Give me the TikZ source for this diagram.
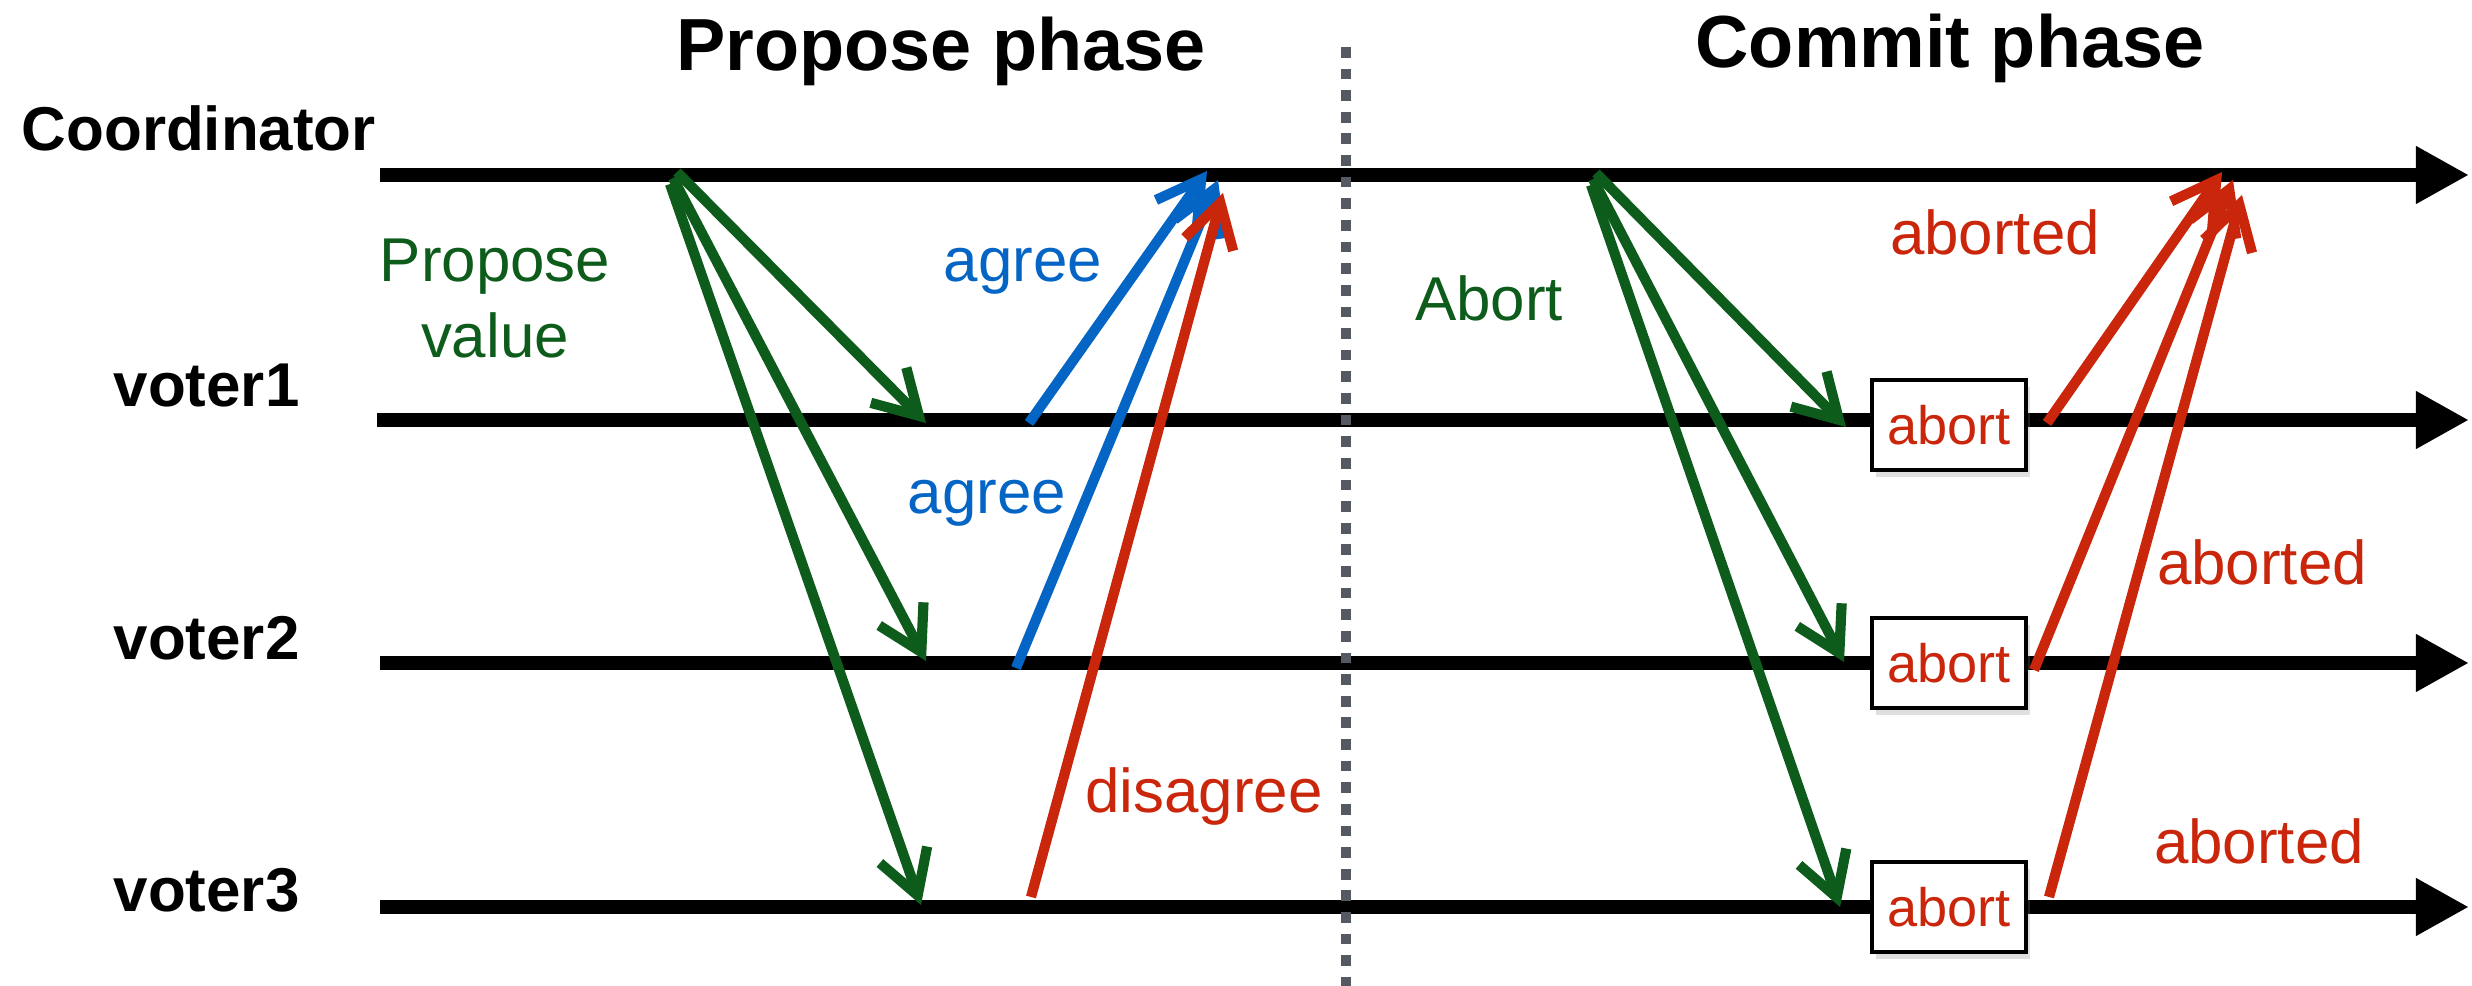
\documentclass[tikz,border=0pt]{standalone}
\usepackage{fontspec}
\setmainfont{Liberation Sans}
\usetikzlibrary{arrows.meta,shadows}
\definecolor{mgreen}{HTML}{0E5C1B}
\definecolor{mblue}{HTML}{0565C4}
\definecolor{mred}{HTML}{C9260B}
\definecolor{mgray}{HTML}{555A62}
\begin{document}
\begin{tikzpicture}[x=0.01cm,y=-0.01cm,
  timeline/.style={line width=3.9pt,-{Triangle[length=0.53cm,width=0.54cm]}},
  divider/.style={mgray,line width=3.1pt,dash pattern=on 3.05pt off 3.1pt},
  msg/.style={line width=2.9pt,-{Straight Barb[length=0.43cm,width=0.50cm]}},
  lbl/.style={inner sep=0pt,font=\fontsize{17.6pt}{21pt}\selectfont},
  blbl/.style={lbl,font=\fontsize{17.6pt}{21pt}\selectfont\bfseries},
  head/.style={inner sep=0pt,font=\fontsize{21pt}{25pt}\selectfont\bfseries},
  abox/.style={draw=black,fill=white,line width=1.2pt,minimum width=1.54cm,minimum height=0.90cm,
    inner sep=0pt,text=mred,font=\fontsize{15.4pt}{18pt}\selectfont,
    drop shadow={shadow xshift=0.4mm,shadow yshift=-0.7mm,opacity=0.25}}
]
\useasboundingbox (0,0) rectangle (2472,986);
% timelines
\coordinate (cs) at (380,175);  \coordinate (ce) at (2469,175);
\coordinate (v1s) at (377,420); \coordinate (v1e) at (2469,420);
\coordinate (v2s) at (380,663); \coordinate (v2e) at (2469,663);
\coordinate (v3s) at (380,907); \coordinate (v3e) at (2469,907);
\draw[timeline] (cs) -- (ce);
\draw[timeline] (v1s) -- (v1e);
\draw[timeline] (v2s) -- (v2e);
\draw[timeline] (v3s) -- (v3e);
% divider
\coordinate (dtop) at (1346,47); \coordinate (dbot) at (1346,990);
\draw[divider] (dtop) -- (dbot);
% labels
\node[head,anchor=base] (hp) at (941,71) {Propose phase};
\node[head,anchor=base] (hc) at (1950,68) {Commit phase};
\node[blbl,anchor=base west] (lc) at (21,151) {Coordinator};
\node[blbl,anchor=base west] (l1) at (113,407) {voter1};
\node[blbl,anchor=base west] (l2) at (113,660) {voter2};
\node[blbl,anchor=base west] (l3) at (113,912) {voter3};
% propose phase messages
\coordinate (pa) at (677,172);
\coordinate (pb) at (673,178);
\coordinate (pc) at (670,184);
\coordinate (p1) at (926,423);
\coordinate (p2) at (926,661);
\coordinate (p3) at (921,905);
\draw[msg,mgreen] (pa) -- (p1);
\draw[msg,mgreen] (pb) -- (p2);
\draw[msg,mgreen] (pc) -- (p3);
\coordinate (a1s) at (1029,423); \coordinate (a1e) at (1207,171);
\coordinate (a2s) at (1016,668); \coordinate (a2e) at (1218,180);
\coordinate (d3s) at (1031,897); \coordinate (d3e) at (1223,193);
\draw[msg,mblue] (a1s) -- (a1e);
\draw[msg,mblue] (a2s) -- (a2e);
\draw[msg,mred] (d3s) -- (d3e);
\node[lbl,text=mgreen,anchor=base] (pv1) at (495,282) {Propose};
\node[lbl,text=mgreen,anchor=base] (pv2) at (495,358) {value};
\node[lbl,text=mblue,anchor=base] (ag1) at (1023,282) {agree};
\node[lbl,text=mblue,anchor=base] (ag2) at (987,514) {agree};
\node[lbl,text=mred,anchor=base] (dis) at (1204,813) {disagree};
% commit phase
\node[abox] (b1) at (1949,425) {abort};
\node[abox] (b2) at (1949,663) {abort};
\node[abox] (b3) at (1949,907) {abort};
\coordinate (ca) at (1596,173);
\coordinate (cb) at (1593,179);
\coordinate (cc) at (1591,185);
\coordinate (k1) at (1846,427);
\coordinate (k2) at (1844,662);
\coordinate (k3) at (1840,907);
\draw[msg,mgreen] (ca) -- (k1);
\draw[msg,mgreen] (cb) -- (k2);
\draw[msg,mgreen] (cc) -- (k3);
\coordinate (r1s) at (2047,423); \coordinate (r1e) at (2222,172);
\coordinate (r2s) at (2034,670); \coordinate (r2e) at (2233,180);
\coordinate (r3s) at (2049,897); \coordinate (r3e) at (2242,195);
\draw[msg,mred] (r1s) -- (r1e);
\draw[msg,mred] (r2s) -- (r2e);
\draw[msg,mred] (r3s) -- (r3e);
\node[lbl,text=mgreen,anchor=base] (ab) at (1489,321) {Abort};
\node[lbl,text=mred,anchor=base] (ad1) at (1995,255) {aborted};
\node[lbl,text=mred,anchor=base] (ad2) at (2262,585) {aborted};
\node[lbl,text=mred,anchor=base] (ad3) at (2259,864) {aborted};
\end{tikzpicture}
\end{document}
